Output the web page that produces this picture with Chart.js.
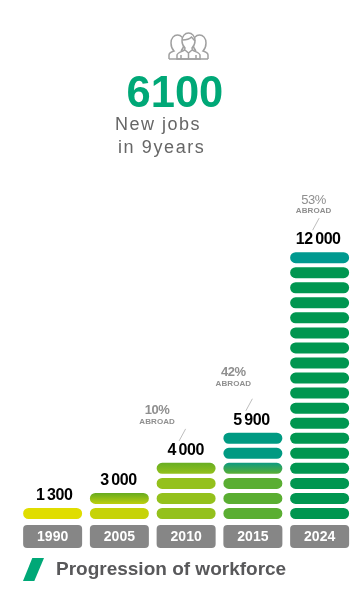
<!DOCTYPE html>
<html>
<head>
<meta charset="utf-8">
<script src="https://cdn.jsdelivr.net/npm/chart.js@4"></script>
<style>
  body { margin: 0; background: #fff; overflow: hidden; font-family: "Liberation Sans", Arial, sans-serif; }
  #wrap { position: relative; width: 364px; height: 610px; }
  #exWorkforce { position: absolute; left: 0; top: 0; }
  .txt { position: absolute; white-space: nowrap; }
  #bigNumber { left: 126.500px; top: 67px; font-size: 43.500px; line-height: 50px; font-weight: bold; color: #00a877; }
  #sub1 { left: 115px; top: 113px; font-size: 18px; line-height: 23px; letter-spacing: 1.5px; color: #666; }
  #sub2 { left: 118px; top: 136px; font-size: 18px; line-height: 23px; letter-spacing: 1.6px; color: #666; }
  #footer { left: 56px; top: 558px; font-size: 19px; line-height: 22px; font-weight: bold; color: #58585a; }
  #icon { position: absolute; left: 168px; top: 32px; }
  #slash { position: absolute; left: 23px; top: 558px; }
</style>
</head>
<body>
<div id="wrap">
  <canvas id="exWorkforce" width="364" height="610"></canvas>
  <svg id="icon" width="41" height="28" viewBox="0 0 41 28" fill="#fff" stroke="#a0a0a0" stroke-width="1.5">
    <path d="M1 27v-4c0-2 2-3 5-4-2-2-3-4-3-8 0-5 3-8 6.500-8S16 6 16 11c0 4-1 6-3 8"/>
    <path d="M40 27v-4c0-2-2-3-5-4 2-2 3-4 3-8 0-5-3-8-6.500-8S25 6 25 11c0 4 1 6 3 8"/>
    <path d="M9 27v-4c0-2 4-3 7.500-5l.5-2c-2-2-3-4-3-7 0-5 3-8 6.500-8S27 4 27 9c0 3-1 5-3 7l.5 2c3.500 2 7.500 3 7.500 5v4z"/>
    <path d="M14.500 8c3 0 7-1 9-3l3.500 4M17 18l3.500 3 3.500-3M20.500 21v6M13 23v4M28 23v4" fill="none"/>
    <path d="M1 27h39" fill="none"/>
  </svg>
  <div id="bigNumber" class="txt">6100</div>
  <div id="sub1" class="txt">New jobs</div>
  <div id="sub2" class="txt">in 9years</div>
  <svg id="slash" width="22" height="24"><polygon points="9.300,0 21,0 11.300,23 0,23" fill="#00a877"/></svg>
  <div id="footer" class="txt">Progression of workforce</div>
</div>
<script>
// Dữ liệu
const years = ["1990", "2005", "2010", "2015", "2024"];
const workforce = [1300, 3000, 4000, 5900, 12000];
const workforceLabels = ["1\u2009300", "3\u2009000", "4\u2009000", "5\u2009900", "12\u2009000"];
const pillCounts = [1, 2, 4, 6, 18];
const abroadShare = [null, null, 10, 42, 53];
const pillUnit = 0.73;

// Màu từng thanh, từ dưới lên. Mảng 2 màu là gradient [trên, dưới]
const pillColors = [
  ["#e0dd00"],
  ["#c6d308", ["#66ab20", "#bccf0d"]],
  ["#94c11c", "#94c11c", "#94c11c", ["#68ae22", "#94c11c"]],
  ["#5aae32", "#5aae32", "#5aae32", ["#0f9b80", "#5aae32"], "#009a82", "#009a82"],
  [...Array(17).fill("#009650"), "#00998f"],
];

function pillFill(ctx, row) {
  const c = (pillColors[ctx.dataIndex] || [])[row];
  if (!Array.isArray(c)) return c || "transparent";
  const y = ctx.chart.scales.y;
  const g = ctx.chart.ctx.createLinearGradient(0, y.getPixelForValue(row + pillUnit), 0, y.getPixelForValue(row));
  g.addColorStop(0, c[0]);
  g.addColorStop(1, c[1]);
  return g;
}

// Mỗi hàng là 1 thanh và 1 khoảng trống trong suốt
const datasets = [];
const radius = { topLeft: 5.5, topRight: 5.5, bottomLeft: 5.5, bottomRight: 5.5 };
for (let row = 0; row < 18; row++) {
  datasets.push({
    label: "pill " + row,
    data: pillCounts.map((c) => (row < c ? pillUnit : null)),
    backgroundColor: (ctx) => pillFill(ctx, row),
    borderRadius: radius,
    borderSkipped: false,
  });
  datasets.push({
    label: "gap " + row,
    data: pillCounts.map((c) => (row < c ? 1 - pillUnit : null)),
    backgroundColor: "transparent",
  });
}

// Ô xám sau nhãn năm
const yearBoxes = {
  id: "yearBoxes",
  beforeDraw(chart) {
    const { ctx, scales } = chart;
    ctx.save();
    ctx.fillStyle = "#868686";
    years.forEach((y, i) => {
      const x = scales.x.getPixelForValue(i);
      ctx.beginPath();
      ctx.roundRect(x - 29.5, 525, 59, 23, 4);
      ctx.fill();
    });
    ctx.restore();
  },
};

// Nhãn giá trị và ghi chú ABROAD
const labelShift = [1.5, -1, -0.5, -1.5, -1.5];
const abroadShiftX = [0, 0, -29, -19.5, -6];
const abroadShiftY = [0, 0, 0, -8, 0];
const valueLabels = {
  id: "valueLabels",
  afterDraw(chart) {
    const { ctx, scales } = chart;
    ctx.save();
    ctx.textAlign = "center";
    ctx.textBaseline = "middle";
    workforceLabels.forEach((label, i) => {
      const x = scales.x.getPixelForValue(i);
      const top = scales.y.getPixelForValue(pillCounts[i] - 1 + pillUnit);
      ctx.fillStyle = "#000";
      ctx.font = "bold 16px 'Liberation Sans'";
      ctx.letterSpacing = "-0.5px";
      ctx.fillText(label, x + labelShift[i], top - 12.5);

      if (abroadShare[i] === null) return;
      const ax = x + abroadShiftX[i];
      const ay = top + abroadShiftY[i];
      ctx.fillStyle = "#8f8f8f";
      ctx.font = (i === 4 ? "" : "bold ") + "13px 'Liberation Sans'";
      ctx.letterSpacing = "-0.5px";
      ctx.fillText(abroadShare[i] + "%", ax, ay - 52);
      ctx.font = "bold 8px 'Liberation Sans'";
      ctx.letterSpacing = "0.1px";
      ctx.fillText("ABROAD", ax, ay - 41);
      ctx.strokeStyle = "#bdbdbd";
      ctx.lineWidth = 1;
      ctx.beginPath();
      ctx.moveTo(x - 7, top - 22);
      ctx.lineTo(x - 0.5, top - 34);
      ctx.stroke();
    });
    ctx.restore();
  },
};

const config = {
  type: "bar",
  data: { labels: years, datasets: datasets },
  plugins: [yearBoxes, valueLabels],
  options: {
    responsive: false,
    animation: false,
    barPercentage: 0.884,
    categoryPercentage: 1,
    layout: { padding: { left: 19.25, right: 11, top: 218, bottom: 0 } },
    plugins: { legend: { display: false }, tooltip: { enabled: false } },
    scales: {
      x: {
        stacked: true,
        afterFit: (scale) => { scale.height = 91; },
        grid: { display: false, drawTicks: false },
        border: { display: false },
        ticks: {
          color: "#fff",
          padding: 10,
          maxRotation: 0,
          font: { family: "'Liberation Sans'", size: 14, weight: "bold" },
        },
      },
      y: { stacked: true, display: false, min: 0, max: 20 },
    },
  },
};

const myChart = new Chart(document.getElementById("exWorkforce"), config);
</script>
</body>
</html>
